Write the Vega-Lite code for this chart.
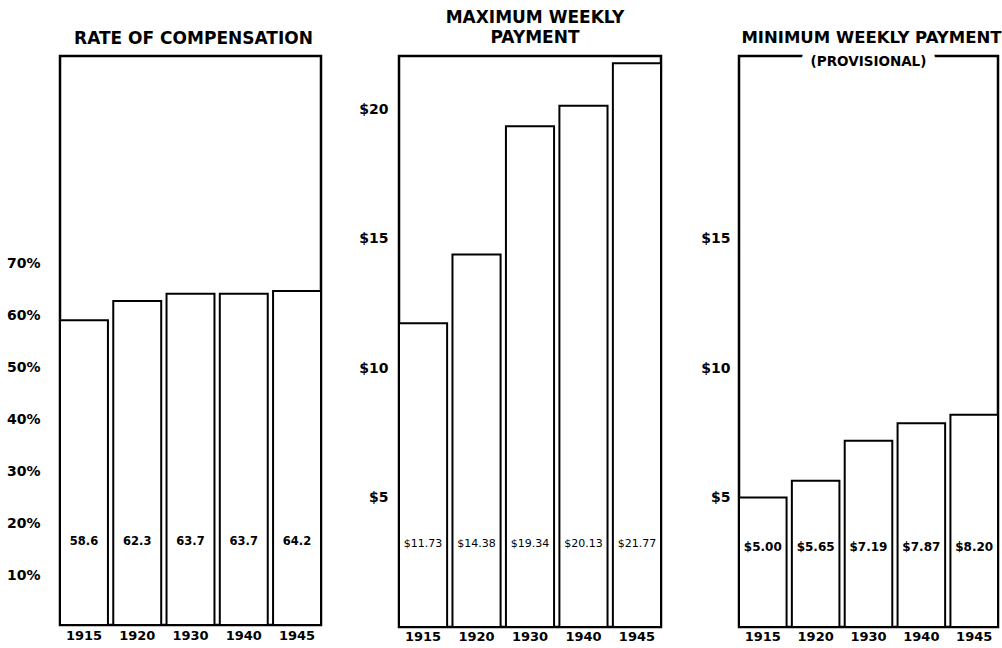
{
  "$schema": "https://vega.github.io/schema/vega-lite/v6.json",
  "background": "white",
  "padding": {"left": 5, "top": 7, "right": 2, "bottom": 2},
  "bounds": "flush",
  "spacing": 78,
  "config": {
    "view": {"stroke": "black", "strokeWidth": 2.5},
    "font": "DejaVu Sans",
    "axis": {"domain": false, "ticks": false, "grid": false, "labelFont": "DejaVu Sans", "labelFontWeight": "bold", "labelColor": "black", "title": null},
    "title": {"font": "DejaVu Sans", "fontWeight": "bold", "fontSize": 17, "color": "black", "anchor": "middle", "frame": "group"}
  },
  "hconcat": [
    {
      "width": 261, "height": 569,
      "title": {"text": "RATE OF COMPENSATION", "offset": 8, "dx": 3},
      "data": {"values": [
        {"year": "1915", "rate": 58.6, "label": "58.6"},
        {"year": "1920", "rate": 62.3, "label": "62.3"},
        {"year": "1930", "rate": 63.7, "label": "63.7"},
        {"year": "1940", "rate": 63.7, "label": "63.7"},
        {"year": "1945", "rate": 64.2, "label": "64.2"}
      ]},
      "encoding": {
        "x": {"field": "year", "type": "ordinal", "scale": {"paddingInner": 0.1, "paddingOuter": 0}, "axis": {"labelAngle": 0, "labelFontSize": 13, "labelPadding": 4}}
      },
      "layer": [
        {
          "mark": {"type": "bar", "fill": "white", "stroke": "black", "strokeWidth": 2},
          "encoding": {"y": {"field": "rate", "type": "quantitative", "scale": {"domain": [0, 109.4], "nice": false}, "axis": {"values": [10, 20, 30, 40, 50, 60, 70], "labelExpr": "datum.value + '%'", "labelFontSize": 14, "labelPadding": 20, "labelOffset": 3}}}
        },
        {
          "mark": {"type": "text", "fontSize": 11.5, "fontWeight": "bold", "color": "black"},
          "encoding": {"y": {"datum": 16, "type": "quantitative"}, "text": {"field": "label"}}
        }
      ]
    },
    {
      "width": 262, "height": 571,
      "title": {"text": ["MAXIMUM WEEKLY", "PAYMENT"], "lineHeight": 20, "offset": 9, "dx": 5, "fontSize": 17},
      "data": {"values": [
        {"year": "1915", "pay": 11.73, "label": "$11.73"},
        {"year": "1920", "pay": 14.38, "label": "$14.38"},
        {"year": "1930", "pay": 19.34, "label": "$19.34"},
        {"year": "1940", "pay": 20.13, "label": "$20.13"},
        {"year": "1945", "pay": 21.77, "label": "$21.77"}
      ]},
      "encoding": {
        "x": {"field": "year", "type": "ordinal", "scale": {"paddingInner": 0.1, "paddingOuter": 0}, "axis": {"labelAngle": 0, "labelFontSize": 13, "labelPadding": 3}}
      },
      "layer": [
        {
          "mark": {"type": "bar", "fill": "white", "stroke": "black", "strokeWidth": 2},
          "encoding": {"y": {"field": "pay", "type": "quantitative", "scale": {"domain": [0, 22.05], "nice": false}, "axis": {"values": [5, 10, 15, 20], "labelExpr": "'$' + datum.value", "labelFontSize": 14, "labelPadding": 11}}}
        },
        {
          "mark": {"type": "text", "fontSize": 11, "fontWeight": "normal", "color": "black"},
          "encoding": {"y": {"datum": 3.2, "type": "quantitative"}, "text": {"field": "label"}}
        }
      ]
    },
    {
      "width": 259, "height": 571,
      "title": {"text": "MINIMUM WEEKLY PAYMENT", "offset": 9, "dx": 3, "fontSize": 16.5},
      "data": {"values": [
        {"year": "1915", "pay": 5.00, "label": "$5.00"},
        {"year": "1920", "pay": 5.65, "label": "$5.65"},
        {"year": "1930", "pay": 7.19, "label": "$7.19"},
        {"year": "1940", "pay": 7.87, "label": "$7.87"},
        {"year": "1945", "pay": 8.20, "label": "$8.20"}
      ]},
      "encoding": {
        "x": {"field": "year", "type": "ordinal", "scale": {"paddingInner": 0.1, "paddingOuter": 0}, "axis": {"labelAngle": 0, "labelFontSize": 13, "labelPadding": 3}}
      },
      "layer": [
        {
          "mark": {"type": "bar", "fill": "white", "stroke": "black", "strokeWidth": 2},
          "encoding": {"y": {"field": "pay", "type": "quantitative", "scale": {"domain": [0, 22.05], "nice": false}, "axis": {"values": [5, 10, 15], "labelExpr": "'$' + datum.value", "labelFontSize": 14, "labelPadding": 9}}}
        },
        {
          "mark": {"type": "text", "fontSize": 12, "fontWeight": "bold", "color": "black"},
          "encoding": {"y": {"datum": 3.1, "type": "quantitative"}, "text": {"field": "label"}}
        },
        {
          "data": {"values": [{"note": "(PROVISIONAL)"}]},
          "mark": {"type": "text", "fontSize": 13.5, "fontWeight": "bold", "fill": "white", "stroke": "white", "strokeWidth": 20},
          "encoding": {"x": {"datum": "1930", "type": "ordinal"}, "y": {"datum": 21.8, "type": "quantitative"}, "text": {"field": "note"}}
        },
        {
          "data": {"values": [{"note": "(PROVISIONAL)"}]},
          "mark": {"type": "text", "fontSize": 13.5, "fontWeight": "bold", "color": "black"},
          "encoding": {"x": {"datum": "1930", "type": "ordinal"}, "y": {"datum": 21.8, "type": "quantitative"}, "text": {"field": "note"}}
        }
      ]
    }
  ]
}
